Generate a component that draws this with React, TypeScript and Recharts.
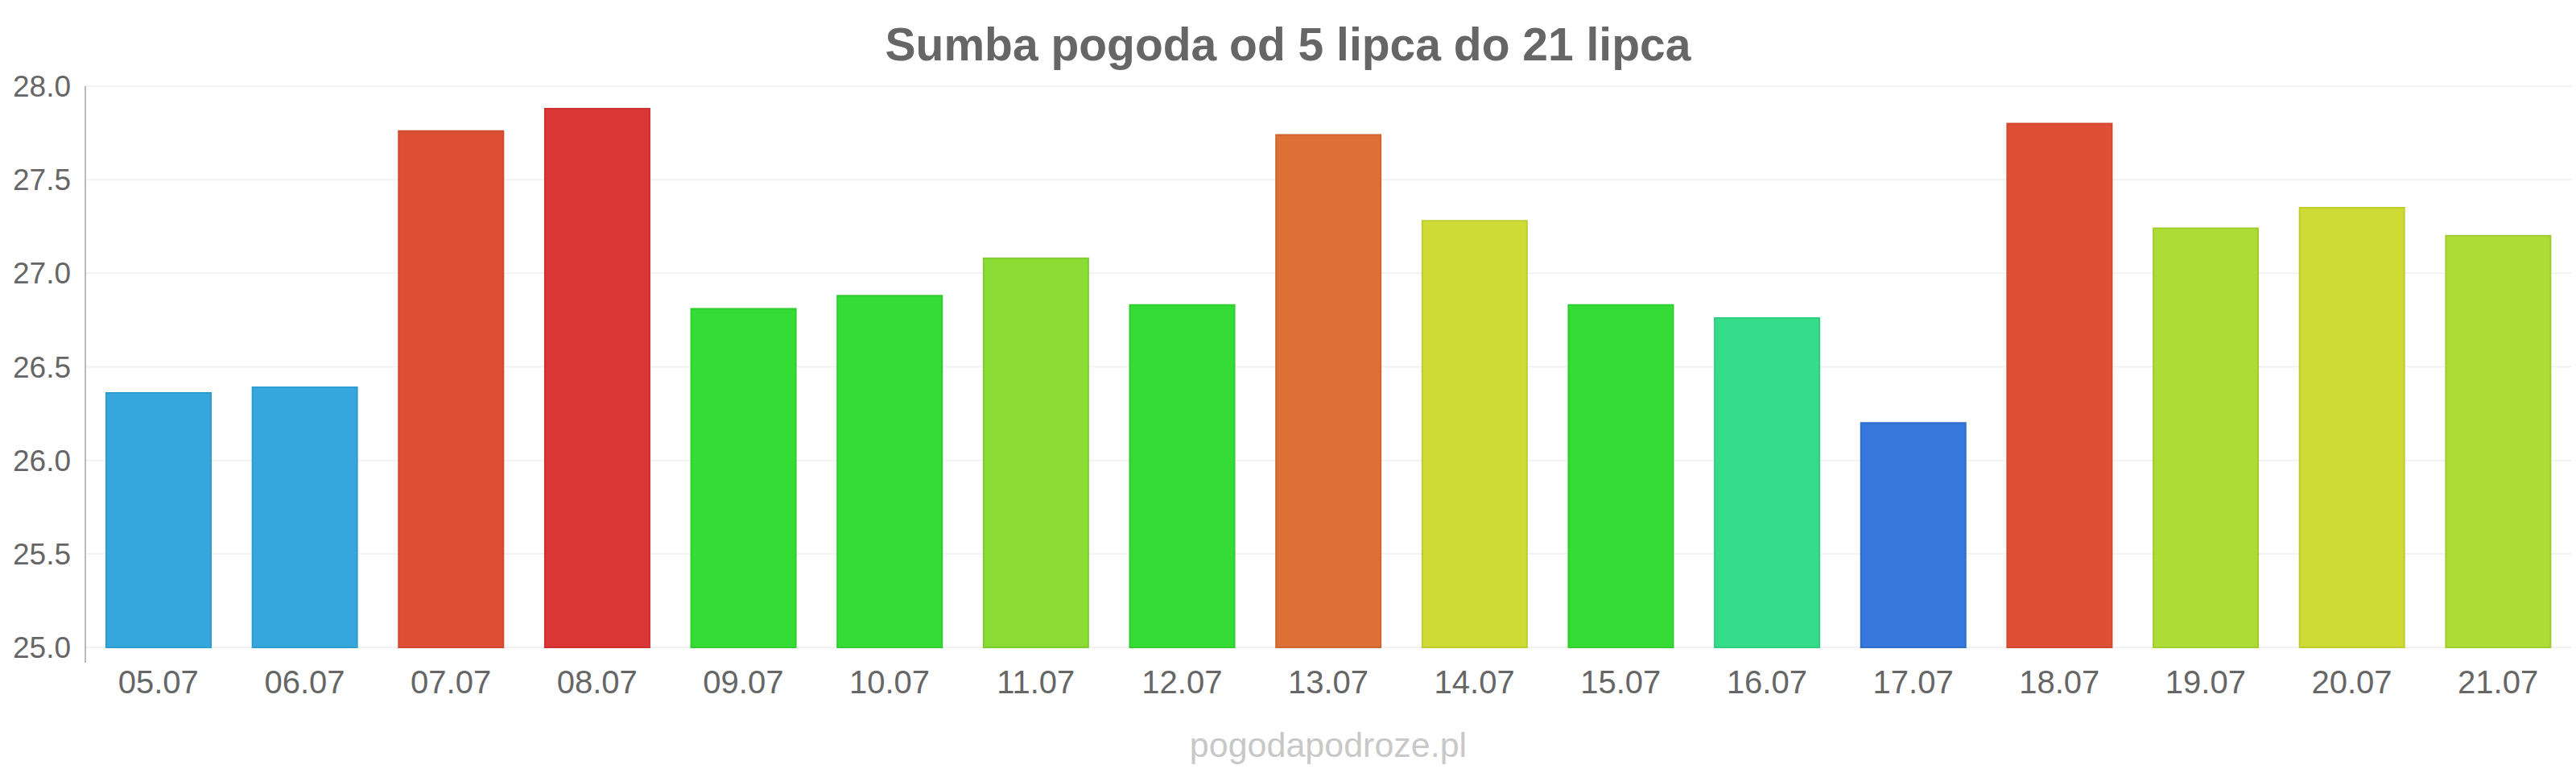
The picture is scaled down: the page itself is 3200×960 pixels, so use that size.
import { BarChart, Bar, Cell, XAxis, YAxis, CartesianGrid } from 'recharts';

const days = ['05.07', '06.07', '07.07', '08.07', '09.07', '10.07', '11.07', '12.07', '13.07', '14.07', '15.07', '16.07', '17.07', '18.07', '19.07', '20.07', '21.07'];
const temps = [26.36, 26.39, 27.76, 27.88, 26.81, 26.88, 27.08, 26.83, 27.74, 27.28, 26.83, 26.76, 26.2, 27.8, 27.24, 27.35, 27.2];
const colors = ['#35a7dc', '#35a7dc', '#dd5035', '#db3535', '#35dc35', '#35dc35', '#8adc35', '#35dc35', '#dc7035', '#cedc35', '#35dc35', '#35dc8a', '#3577dc', '#dd5035', '#addc35', '#cedc35', '#addc35'];
const strokes = ['#2f9ccf', '#2f9ccf', '#cf4a30', '#cc3030', '#30cc30', '#30cc30', '#7fcc30', '#30cc30', '#cc6830', '#bfcc30', '#30cc30', '#30cc80', '#306ecc', '#cf4a30', '#a0cc30', '#bfcc30', '#a0cc30'];
const yTicks = [25, 25.5, 26, 26.5, 27, 27.5, 28];

const data = days.map((day, i) => ({ day, temp: temps[i] }));

const font = '"Liberation Sans", Arial, sans-serif';

export default function App() {
  return (
    <div style={{ position: 'absolute', left: 0, top: 0, width: 3200, height: 960, background: '#fff', fontFamily: font }}>
      <div style={{ position: 'absolute', left: 0, top: 0, width: 3200, height: 110, lineHeight: '110px', textAlign: 'center', fontSize: 57, fontWeight: 'bold', color: '#666' }}>
        Sumba pogoda od 5 lipca do 21 lipca
      </div>
      <BarChart
        width={3200}
        height={960}
        data={data}
        margin={{ top: 107, right: 6, bottom: 96, left: 0 }}
      >
        <CartesianGrid vertical={false} stroke="#f2f2f2" strokeWidth={2} />
        <XAxis
          dataKey="day"
          axisLine={false}
          tickLine={false}
          tickSize={0}
          tickMargin={29}
          height={60}
          tick={{ fontSize: 40, fill: '#666', fontFamily: font }}
        />
        <YAxis
          domain={[25, 28]}
          ticks={yTicks}
          width={106}
          axisLine={{ stroke: '#bbb', strokeWidth: 2 }}
          tickLine={false}
          tickSize={0}
          tickMargin={18}
          tickFormatter={(v: number) => v.toFixed(1)}
          tick={{ fontSize: 37, fill: '#666', fontFamily: font }}
        />
        <Bar dataKey="temp" barSize={130} isAnimationActive={false}>
          {data.map((entry, index) => (
            <Cell key={`cell-${index}`} fill={colors[index]} stroke={strokes[index]} strokeWidth={2} />
          ))}
        </Bar>
      </BarChart>
      {/* y axis line runs a little past the lowest tick */}
      <div style={{ position: 'absolute', left: 105, top: 803, width: 2, height: 20, background: '#bbb' }} />
      <div style={{ position: 'absolute', left: 106, width: 3088, top: 900, height: 50, lineHeight: '50px', textAlign: 'center', fontSize: 43, color: '#c8c8c8' }}>
        pogodapodroze.pl
      </div>
    </div>
  );
}
